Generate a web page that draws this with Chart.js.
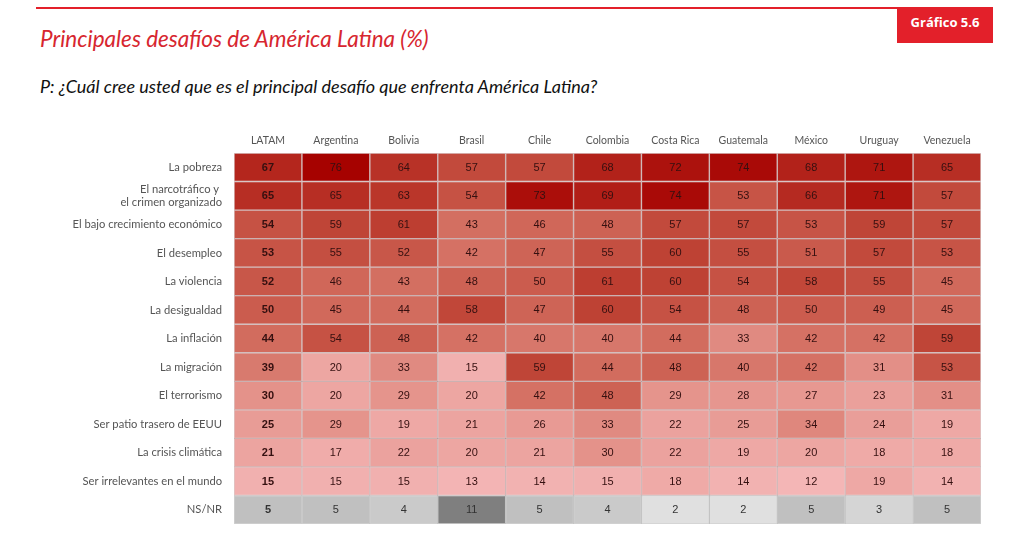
<!DOCTYPE html>
<html>
<head>
<meta charset="utf-8">
<script src="https://cdn.jsdelivr.net/npm/chart.js@4"></script>
<style>
  html, body { margin: 0; padding: 0; background: #fff; }
  #wrap { position: relative; width: 1024px; height: 560px; overflow: hidden; }
  #topline { position: absolute; left: 36px; top: 7px; width: 957px; height: 2px; background: #e3202a; }
  #badge { position: absolute; left: 897px; top: 8px; width: 96px; height: 35px; background: #e3202a;
           color: #fff; font: bold 13px "Open Sans", sans-serif; text-align: center; line-height: 29px; }
  #title { position: absolute; left: 40px; top: 25px; color: #d7262f; font: italic 22.5px Lato, sans-serif; }
  #subtitle { position: absolute; left: 40px; top: 75px; color: #111; font: italic 18px Lato, sans-serif; }
  canvas { position: absolute; left: 0; top: 0; }
</style>
</head>
<body>
<div id="wrap">
  <div id="topline"></div>
  <div id="badge">Gráfico 5.6</div>
  <div id="title">Principales desafíos de América Latina (%)</div>
  <div id="subtitle">P: ¿Cuál cree usted que es el principal desafío que enfrenta América Latina?</div>
  <canvas id="heat" width="1024" height="560"></canvas>
</div>
<script>
// filas (desafíos) y columnas (países)
const challenges = [
  'La pobreza',
  ['El narcotráfico y ', 'el crimen organizado'],
  'El bajo crecimiento económico',
  'El desempleo',
  'La violencia',
  'La desigualdad',
  'La inflación',
  'La migración',
  'El terrorismo',
  'Ser patio trasero de EEUU',
  'La crisis climática',
  'Ser irrelevantes en el mundo',
  'NS/NR'
];
const countries = ['LATAM', 'Argentina', 'Bolivia', 'Brasil', 'Chile', 'Colombia',
                   'Costa Rica', 'Guatemala', 'México', 'Uruguay', 'Venezuela'];

// valores (%) por país, en el orden de challenges
const latam     = [67, 65, 54, 53, 52, 50, 44, 39, 30, 25, 21, 15, 5];
const argentina = [76, 65, 59, 55, 46, 45, 54, 20, 20, 29, 17, 15, 5];
const bolivia   = [64, 63, 61, 52, 43, 44, 48, 33, 29, 19, 22, 15, 4];
const brasil    = [57, 54, 43, 42, 48, 58, 42, 15, 20, 21, 20, 13, 11];
const chile     = [57, 73, 46, 47, 50, 47, 40, 59, 42, 26, 21, 14, 5];
const colombia  = [68, 69, 48, 55, 61, 60, 40, 44, 48, 33, 30, 15, 4];
const costaRica = [72, 74, 57, 60, 60, 54, 44, 48, 29, 22, 22, 18, 2];
const guatemala = [74, 53, 57, 55, 54, 48, 33, 40, 28, 25, 19, 14, 2];
const mexico    = [68, 66, 53, 51, 58, 50, 42, 42, 27, 34, 20, 12, 5];
const uruguay   = [71, 71, 59, 57, 55, 49, 42, 31, 23, 24, 18, 19, 3];
const venezuela = [65, 57, 57, 53, 45, 45, 59, 53, 31, 19, 18, 14, 5];

const columns = [latam, argentina, bolivia, brasil, chile, colombia,
                 costaRica, guatemala, mexico, uruguay, venezuela];

// escala de color
const redStops = [
  [12, [244, 182, 182]],
  [30, [228, 146, 138]],
  [44, [210, 108, 94]],
  [60, [190, 66, 52]],
  [76, [166, 2, 0]]
];
function redFor(v) {
  if (v <= redStops[0][0]) return 'rgb(' + redStops[0][1].join(',') + ')';
  for (let i = 1; i < redStops.length; i++) {
    const [v1, c1] = redStops[i];
    const [v0, c0] = redStops[i - 1];
    if (v <= v1) {
      const t = (v - v0) / (v1 - v0);
      const c = c0.map((x, k) => Math.round(x + (c1[k] - x) * t));
      return 'rgb(' + c.join(',') + ')';
    }
  }
  return 'rgb(' + redStops[redStops.length - 1][1].join(',') + ')';
}
function grayFor(v) {
  const g = Math.round(Math.max(120, Math.min(226, 224 - (v - 2) * 10.8)));
  return 'rgb(' + g + ',' + g + ',' + g + ')';
}
const lastRow = challenges.length - 1;
function cellColor(v, row) {
  return row === lastRow ? grayFor(v) : redFor(v);
}

const datasets = columns.map((vals, j) => ({
  label: countries[j],
  data: vals.map(() => [j, j + 1]),
  values: vals,
  backgroundColor: vals.map((v, i) => cellColor(v, i)),
  borderColor: vals.map((v, i) => i === lastRow ? 'rgba(0,0,0,0.18)' : 'rgba(90,10,10,0.22)'),
  borderWidth: 1,
  borderSkipped: false,
  barPercentage: 1,
  categoryPercentage: 1,
  grouped: false
}));

const cellLabels = {
  id: 'cellLabels',
  afterDatasetsDraw(chart) {
    const ctx = chart.ctx;
    ctx.save();
    ctx.textAlign = 'center';
    ctx.textBaseline = 'middle';
    chart.data.datasets.forEach((ds, j) => {
      const meta = chart.getDatasetMeta(j);
      meta.data.forEach((el, i) => {
        const { x, base, y } = el.getProps(['x', 'base', 'y'], true);
        ctx.font = (j === 0 ? 'bold ' : '') + '11px "Liberation Sans", Arial, sans-serif';
        ctx.fillStyle = i === lastRow ? '#333' : '#351010';
        ctx.fillText(ds.values[i], (x + base) / 2, y + 0.5);
      });
    });
    ctx.restore();
  }
};

new Chart(document.getElementById('heat').getContext('2d'), {
  type: 'bar',
  data: { labels: challenges, datasets: datasets },
  options: {
    indexAxis: 'y',
    responsive: false,
    animation: false,
    layout: { padding: { top: 120, left: 0, right: 43, bottom: 36 } },
    plugins: { legend: { display: false }, tooltip: { enabled: false } },
    scales: {
      x: {
        type: 'linear',
        position: 'top',
        min: 0,
        max: countries.length,
        grid: { display: false, drawTicks: false },
        border: { display: false },
        afterBuildTicks(axis) {
          axis.ticks = countries.map((c, i) => ({ value: i + 0.5 }));
        },
        afterFit(axis) { axis.height = 33; },
        ticks: {
          autoSkip: false,
          maxRotation: 0,
          padding: 6,
          color: '#555',
          font: { family: 'Lato', size: 10.5 },
          callback: (v, i) => countries[i]
        }
      },
      y: {
        grid: { display: false, drawTicks: false },
        border: { display: false },
        afterFit(axis) { axis.width = 234; },
        ticks: {
          autoSkip: false,
          padding: 12,
          color: '#555',
          font: { family: 'Lato', size: 11.2, lineHeight: 1.15 }
        }
      }
    }
  },
  plugins: [cellLabels]
});
</script>
</body>
</html>
